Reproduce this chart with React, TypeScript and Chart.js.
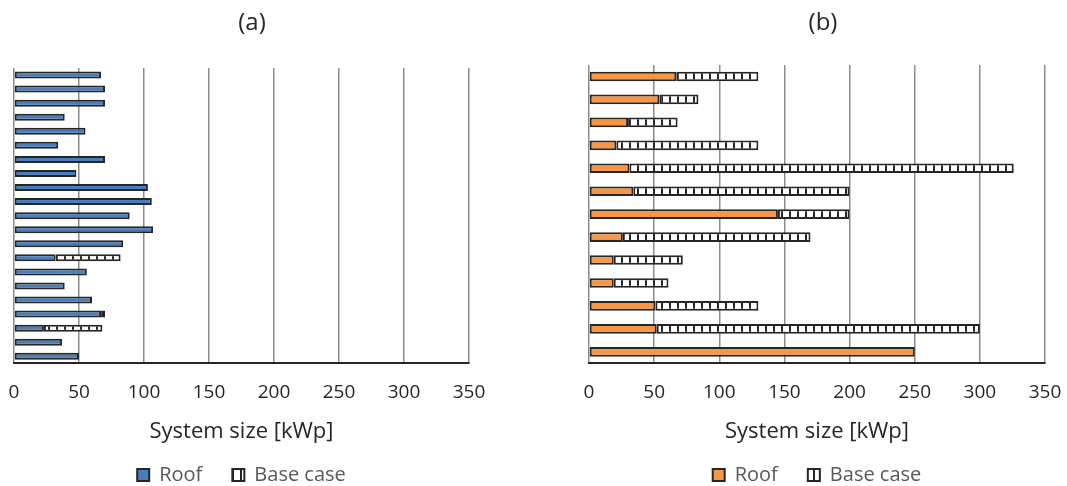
import React, { useEffect, useRef } from 'react';
import { Chart, registerables } from 'chart.js';

Chart.register(...registerables);

// ---------- data ----------
const xTickStep = 50;
const xMin = 0;
const xMax = 350;
const axisTitle = 'System size [kWp]';
const seriesNames = ['Roof', 'Base case'];

const categoriesA = ['1', '2', '3', '4', '5', '6', '7', '8', '9', '10', '11', '12', '13', '14', '15', '16', '17', '18', '19', '20', '21'];
const roofA = [67, 70, 70, 39, 55, 34, 70, 48, 103, 106, 89, 107, 84, 32, 56, 39, 60, 67, 23, 37, 50];
const baseCaseA = [0, 0, 0, 0, 0, 0, 0, 0, 0, 0, 0, 0, 0, 50, 0, 0, 0, 3, 45, 0, 0];

const categoriesB = ['1', '2', '3', '4', '5', '6', '7', '8', '9', '10', '11', '12', '13'];
const roofB = [67, 54, 30, 21, 31, 34, 145, 26, 19, 19, 51, 52, 250];
const baseCaseB = [63, 30, 38, 109, 295, 166, 55, 144, 53, 42, 79, 248, 0];

const FONT = '"Open Sans", sans-serif';
const DARK = '#262626';

function makePattern(): CanvasPattern | string {
  const c = document.createElement('canvas');
  c.width = 8;
  c.height = 8;
  const ctx = c.getContext('2d');
  if (!ctx) return '#ffffff';
  ctx.fillStyle = '#ffffff';
  ctx.fillRect(0, 0, 8, 8);
  ctx.fillStyle = DARK;
  ctx.fillRect(0, 0, 2, 8);
  return ctx.createPattern(c, 'repeat') || '#ffffff';
}

// draws the panel caption "(a)" / "(b)" as canvas text
const panelTitlePlugin = {
  id: 'panelTitle',
  afterDraw(chart: any, _args: any, opts: any) {
    const ctx = chart.ctx;
    ctx.save();
    ctx.font = `normal 24px ${FONT}`;
    ctx.fillStyle = DARK;
    ctx.textAlign = 'center';
    ctx.textBaseline = 'middle';
    ctx.fillText(opts.text, opts.x, opts.y);
    ctx.restore();
  },
};

type PanelProps = {
  title: string;
  titleX: number;
  labels: string[];
  roof: number[];
  base: number[];
  color: string;
  barPct: number;
  width: number;
  height: number;
  padLeft: number;
  padRight: number;
  padTop: number;
};

function Panel(props: PanelProps) {
  const ref = useRef<HTMLCanvasElement | null>(null);
  useEffect(() => {
    if (!ref.current) return;
    const pattern = makePattern();
    const common = {
      borderColor: DARK,
      borderWidth: 2,
      borderSkipped: false,
      barPercentage: props.barPct,
      categoryPercentage: 1,
    };
    const chart = new Chart(ref.current, {
      type: 'bar',
      data: {
        labels: props.labels,
        datasets: [
          { label: seriesNames[0], data: props.roof, backgroundColor: props.color, ...common },
          { label: seriesNames[1], data: props.base, backgroundColor: pattern, ...common },
        ],
      },
      plugins: [panelTitlePlugin],
      options: {
        indexAxis: 'y',
        animation: false,
        responsive: false,
        maintainAspectRatio: false,
        layout: { padding: { left: props.padLeft, right: props.padRight, top: props.padTop, bottom: -9 } },
        scales: {
          x: {
            stacked: true,
            min: xMin,
            max: xMax,
            ticks: { stepSize: xTickStep, font: { family: FONT, size: 19 }, color: DARK, padding: 0 },
            grid: { color: '#8c8c8c', lineWidth: 1.5, drawTicks: true, tickLength: 18, tickColor: 'rgba(0,0,0,0)' },
            border: { display: true, color: DARK, width: 2 },
            title: {
              display: true,
              text: axisTitle,
              font: { family: FONT, size: 22 },
              color: DARK,
              padding: { top: 14.5, bottom: -10 },
            },
          },
          y: { stacked: true, display: false },
        },
        plugins: {
          panelTitle: { text: props.title, x: props.titleX, y: 23 },
          title: { display: false },
          legend: {
            position: 'bottom',
            labels: {
              boxWidth: 12,
              boxHeight: 12,
              font: { family: FONT, size: 20 },
              color: '#595959',
              padding: 30,
            },
          },
          tooltip: { enabled: false },
        },
      },
    } as any);
    return () => chart.destroy();
  }, []);
  return <canvas ref={ref} width={props.width} height={props.height} style={{ display: 'block' }} />;
}

export default function App() {
  return (
    <div style={{ position: 'absolute', left: 0, top: 0, width: 1067, height: 486, background: '#fff', display: 'flex' }}>
      <Panel title="(a)" titleX={252} labels={categoriesA} roof={roofA} base={baseCaseA} color="#4a7ebb" barPct={0.5}
        width={533} height={486} padLeft={14} padRight={64} padTop={68} />
      <Panel title="(b)" titleX={290} labels={categoriesB} roof={roofB} base={baseCaseB} color="#f79646" barPct={0.42}
        width={534} height={486} padLeft={56} padRight={22} padTop={65} />
    </div>
  );
}
